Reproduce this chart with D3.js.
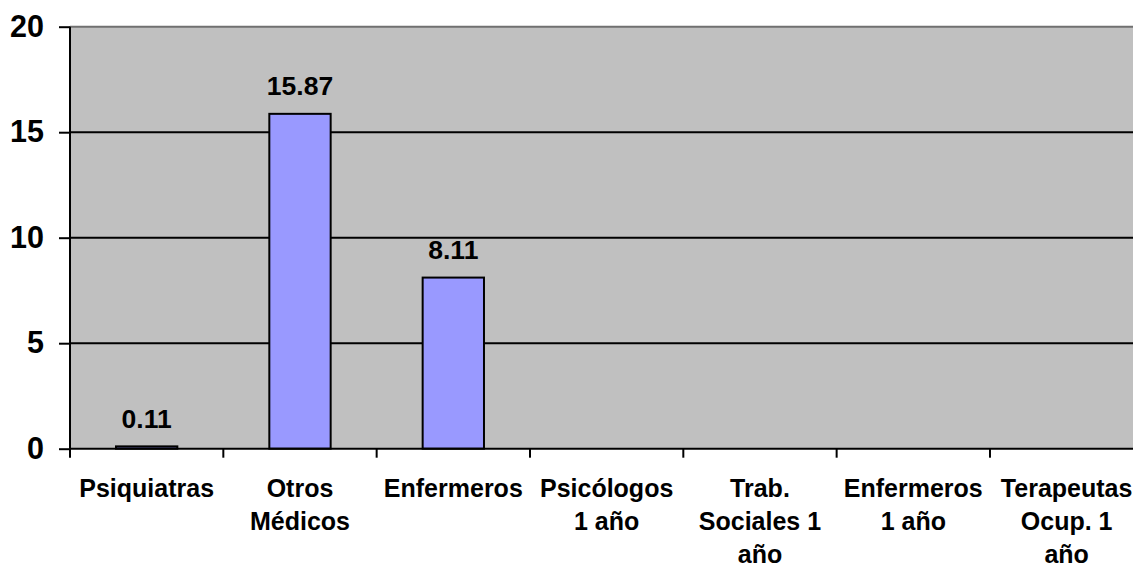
<!DOCTYPE html>
<html>
<head>
<meta charset="utf-8">
<script src="https://cdn.jsdelivr.net/npm/d3@7"></script>
<style>
  html, body { margin: 0; padding: 0; background: #fff; overflow: hidden; }
  svg { display: block; font-family: "Liberation Sans", Arial, sans-serif; font-weight: bold; }
</style>
</head>
<body>
<svg id="chart" width="1133" height="567"></svg>
<script>
// Categories and values
const categories = [
  "Psiquiatras",
  "Otros Médicos",
  "Enfermeros",
  "Psicólogos 1 año",
  "Trab. Sociales 1 año",
  "Enfermeros 1 año",
  "Terapeutas Ocup. 1 año"
];
const values = [0.11, 15.87, 8.11, null, null, null, null];
const yTicks = [0, 5, 10, 15, 20];

const svg = d3.select("#chart");

// Plot area (right side runs past the window edge)
const plotLeft = 70, plotRight = 1143.3, plotTop = 26.7, plotBottom = 448.7;

const x = d3.scaleBand().domain(categories).range([plotLeft, plotRight]).paddingInner(0.6).paddingOuter(0.3);
const xTickScale = d3.scaleLinear().domain([0, categories.length]).range([plotLeft, plotRight]);
const y = d3.scaleLinear().domain([0, 20]).range([plotBottom, plotTop]);

// Plot background
svg.append("rect")
  .attr("x", plotLeft).attr("y", plotTop)
  .attr("width", plotRight - plotLeft).attr("height", plotBottom - plotTop)
  .attr("fill", "#C0C0C0");

// Horizontal gridlines
svg.append("g").selectAll("line")
  .data(yTicks.filter(d => d > 0))
  .join("line")
  .attr("x1", plotLeft).attr("x2", plotRight)
  .attr("y1", d => y(d)).attr("y2", d => y(d))
  .attr("stroke", d => d === 20 ? "#707070" : "#000")
  .attr("stroke-width", 2);

// Bars
const bars = categories.map((c, i) => ({ c, v: values[i] })).filter(d => d.v != null);
svg.append("g").selectAll("rect")
  .data(bars)
  .join("rect")
  .attr("x", d => x(d.c))
  .attr("y", d => y(d.v))
  .attr("width", x.bandwidth())
  .attr("height", d => y(0) - y(d.v))
  .attr("fill", "#9999FF")
  .attr("stroke", "#000")
  .attr("stroke-width", 2);

// Value labels
svg.append("g").selectAll("text")
  .data(bars)
  .join("text")
  .attr("x", d => x(d.c) + x.bandwidth() / 2)
  .attr("y", d => y(d.v) - 18.5)
  .attr("text-anchor", "middle")
  .attr("font-size", 26.5)
  .attr("fill", "#000")
  .text(d => d.v.toFixed(2));

// Y axis
const yAxis = d3.axisLeft(y).tickValues(yTicks).tickSize(11).tickPadding(15).tickFormat(d3.format("d"));
const gy = svg.append("g").attr("transform", `translate(${plotLeft},0)`).call(yAxis);
gy.select(".domain").attr("stroke", "#000").attr("stroke-width", 2).attr("d", `M0,${plotBottom}V${plotTop}`);
gy.selectAll(".tick line").attr("stroke", "#000").attr("stroke-width", 2);
gy.selectAll(".tick text")
  .attr("font-size", 30.5).attr("font-family", "Liberation Sans, Arial, sans-serif")
  .attr("font-weight", "bold").attr("fill", "#000");

// X axis: baseline and category boundary ticks
const boundaries = d3.range(categories.length + 1);
svg.append("line")
  .attr("x1", plotLeft).attr("x2", plotRight)
  .attr("y1", y(0)).attr("y2", y(0))
  .attr("stroke", "#000").attr("stroke-width", 2);
svg.append("g").selectAll("line")
  .data(boundaries)
  .join("line")
  .attr("x1", d => xTickScale(d)).attr("x2", d => xTickScale(d))
  .attr("y1", y(0)).attr("y2", y(0) + 9)
  .attr("stroke", "#000").attr("stroke-width", 2);

// Category labels, wrapped to the category width
const maxWidth = 130;
const labels = svg.append("g").selectAll("text")
  .data(categories)
  .join("text")
  .attr("x", d => x(d) + x.bandwidth() / 2)
  .attr("y", 497)
  .attr("text-anchor", "middle")
  .attr("font-size", 25)
  .attr("fill", "#000");

labels.each(function(d) {
  const t = d3.select(this);
  const cx = +t.attr("x");
  const words = d.split(" ");
  const lines = [];
  let cur = [];
  const probe = t.append("tspan");
  words.forEach(w => {
    const test = cur.concat([w]).join(" ");
    probe.text(test);
    if (cur.length && probe.node().getComputedTextLength() > maxWidth) {
      lines.push(cur.join(" "));
      cur = [w];
    } else {
      cur.push(w);
    }
  });
  if (cur.length) lines.push(cur.join(" "));
  probe.remove();
  lines.forEach((ln, i) => {
    t.append("tspan").attr("x", cx).attr("dy", i === 0 ? 0 : 33.2).text(ln);
  });
});
</script>
</body>
</html>
